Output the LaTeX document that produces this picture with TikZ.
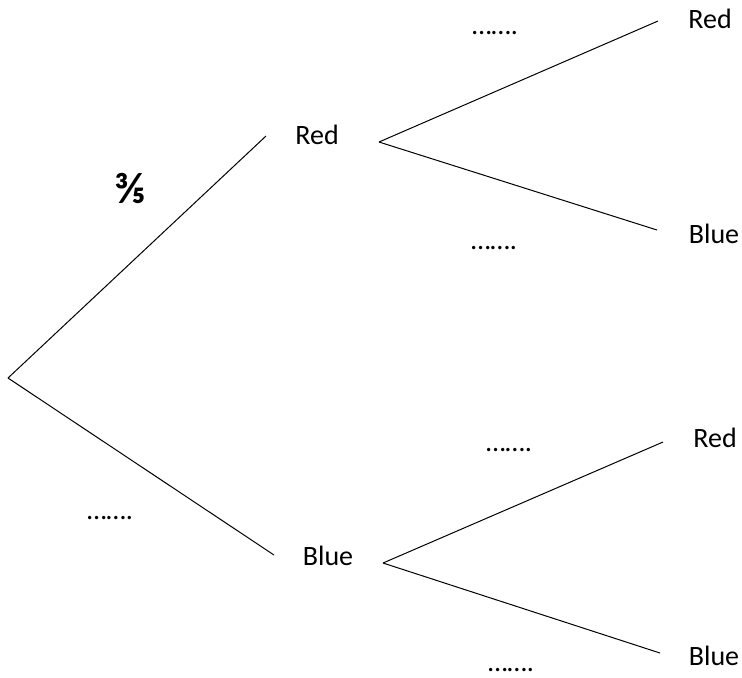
\documentclass[tikz,border=0pt]{standalone}
\usepackage{fontspec}
\setmainfont{Carlito}
\begin{document}
\begin{tikzpicture}[x=0.5pt,y=-0.5pt,
  branch/.style={draw=black,line width=0.5pt},
  lbl/.style={anchor=base,inner sep=0pt,font=\fontsize{14}{16}\selectfont},
  blank/.style={anchor=base,inner sep=0pt,font=\fontsize{14}{16}\selectfont}]
\useasboundingbox (0,0) rectangle (742,677);
% branch points
\coordinate (root) at (8,378);
\coordinate (r1in) at (266,136);
\coordinate (b1in) at (274,555);
\coordinate (r1out) at (379,142);
\coordinate (b1out) at (383,563);
\coordinate (rrin) at (658,21);
\coordinate (rbin) at (657,230);
\coordinate (brin) at (663,442);
\coordinate (bbin) at (660,653);
% labels
\node[lbl] (red1) at (317,144) {Red};
\node[lbl] (blue1) at (328,565) {Blue};
\node[lbl] (rr) at (710,28) {Red};
\node[lbl] (rb) at (714,243) {Blue};
\node[lbl] (br) at (715,447) {Red};
\node[lbl] (bb) at (714,665) {Blue};
% probabilities
\node[blank,font=\fontsize{22}{24}\selectfont\bfseries] (p1) at (131,203) {⅗};
\node[blank] (d1) at (495,34) {…….};
\node[blank] (d2) at (494,249) {…….};
\node[blank] (d3) at (509,451) {…….};
\node[blank] (d4) at (110,519) {…….};
\node[blank] (d5) at (511,671) {…….};
% connectors
\draw[branch] (root) -- (r1in);
\draw[branch] (root) -- (b1in);
\draw[branch] (r1out) -- (rrin);
\draw[branch] (r1out) -- (rbin);
\draw[branch] (b1out) -- (brin);
\draw[branch] (b1out) -- (bbin);
\end{tikzpicture}
\end{document}
